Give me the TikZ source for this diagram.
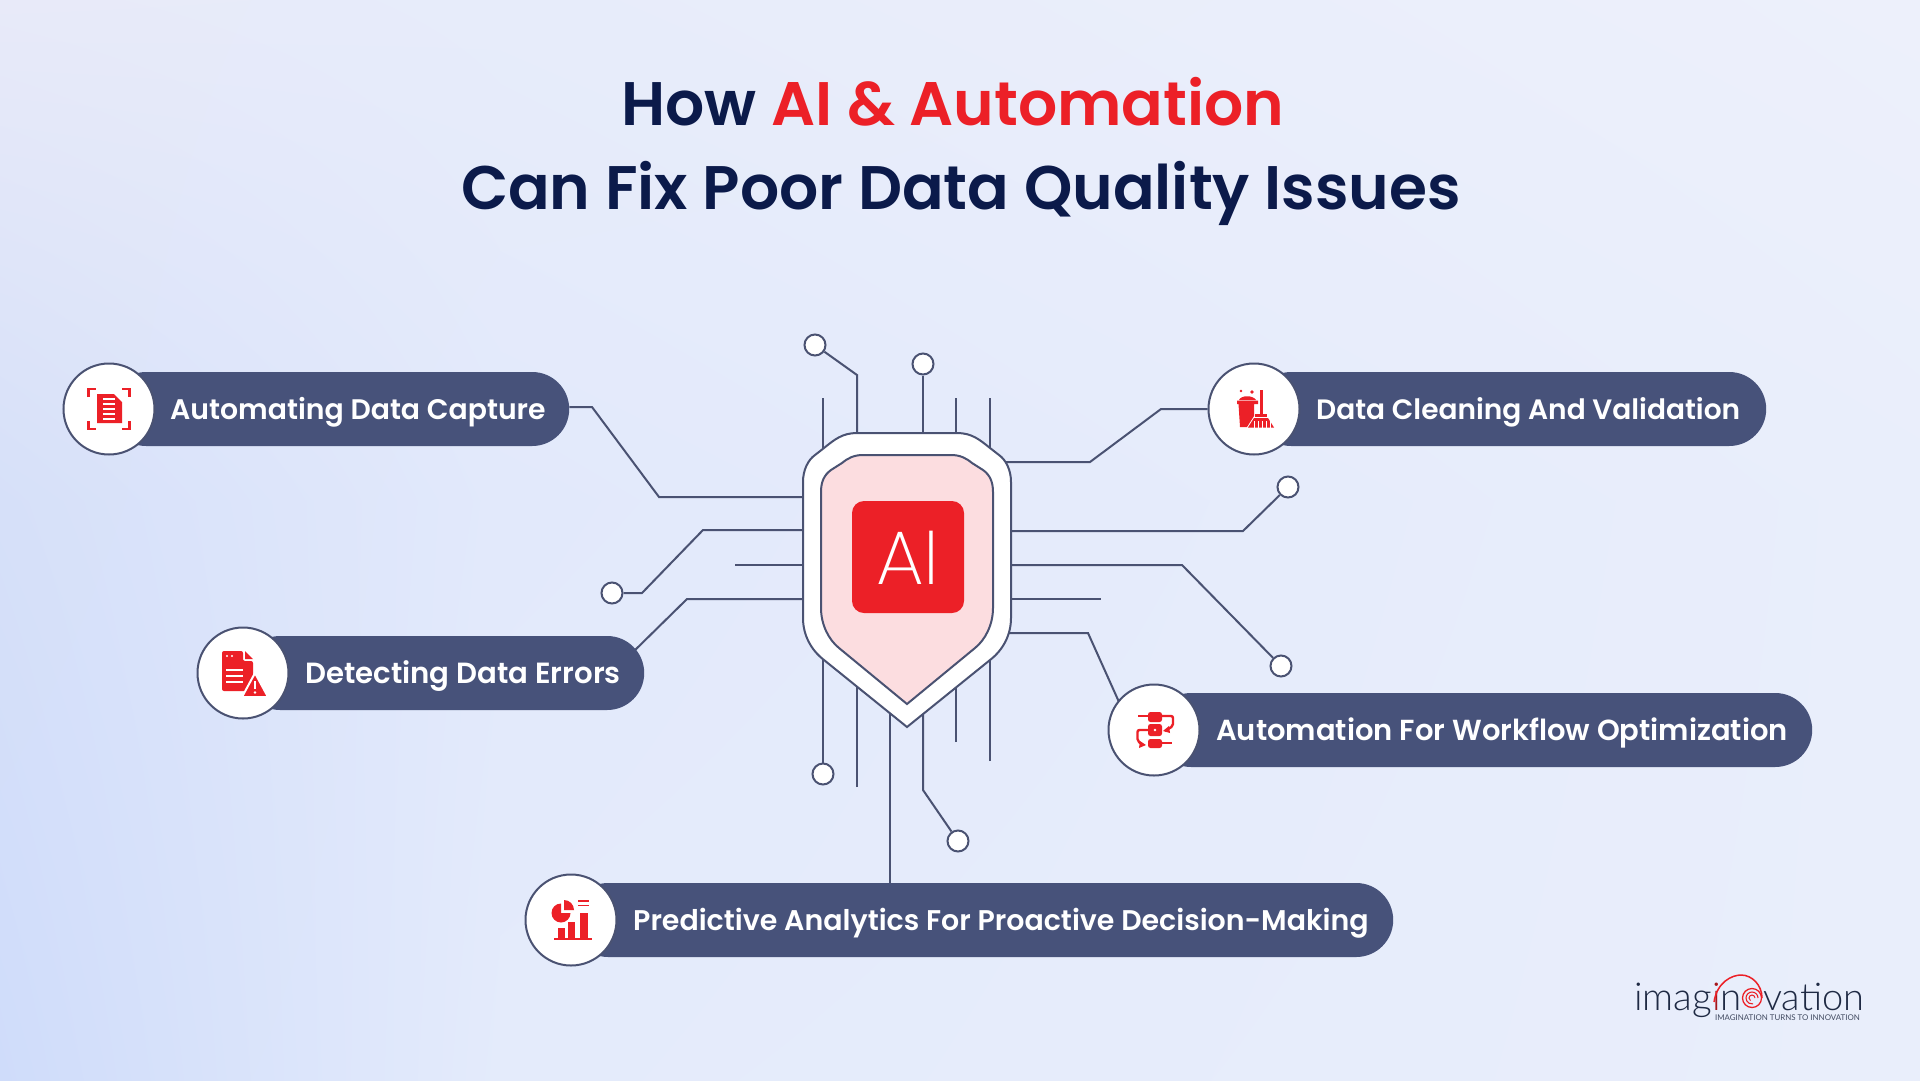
\documentclass[tikz,border=0pt]{standalone}
\usepackage{fontspec}
\setmainfont{Poppins}
\newfontfamily\titlefont{Poppins SemiBold}
\newfontfamily\thinfont{Poppins ExtraLight}
\newfontfamily\logofont{Lato Light}
\newfontfamily\tagfont{Lato}
\usetikzlibrary{arrows.meta, positioning, calc, backgrounds, shadings}
\definecolor{NavyInk}{HTML}{0B1A4A}
\definecolor{AiRed}{HTML}{EC2027}
\definecolor{SlatePill}{HTML}{47527A}
\definecolor{WireGray}{HTML}{4A5272}
\definecolor{SoftRose}{HTML}{FCDDE0}
\definecolor{LogoDark}{HTML}{1F2A44}
\definecolor{SkyA}{HTML}{E8EAF9}
\definecolor{SkyB}{HTML}{E7ECFA}
\definecolor{SkyC}{HTML}{EDF0FB}
\definecolor{SkyD}{HTML}{D6E0F9}
\definecolor{SkyE}{HTML}{E2E9FB}
\definecolor{SkyF}{HTML}{E9EEFB}
\definecolor{SkyG}{HTML}{CFDCFA}
\definecolor{SkyH}{HTML}{E4EBFB}
\definecolor{SkyI}{HTML}{E9EEFB}
\pgfdeclarelayer{wires}
\pgfsetlayers{background,wires,main}
\tikzset{
  pill/.style={fill=SlatePill, rounded corners=37pt, minimum height=74pt, anchor=west, inner sep=0pt},
  pilltext/.style={anchor=base west, inner sep=0pt, text=white, font=\titlefont\fontsize{#1}{34}\selectfont},
  disc/.style={circle, draw=WireGray, line width=2pt, fill=white, minimum size=91pt, inner sep=0pt},
  dot/.style={circle, draw=WireGray, line width=2pt, fill=white, minimum size=21pt, inner sep=0pt},
  wire/.style={draw=WireGray, line width=2pt},
  title/.style={anchor=base, inner sep=0pt, text=NavyInk, font=\titlefont\fontsize{61.5}{70}\selectfont},
  ink/.style={fill=AiRed, draw=none},
  inkline/.style={draw=AiRed, line width=2.4pt},
  notch/.style={draw=white, line width=1.4pt}
}
\begin{document}
\begin{tikzpicture}[x=1pt, y=-1pt]
\useasboundingbox (0,0) rectangle (1920,1080);
\begin{pgfonlayer}{background}
\shade[upper left=SkyA, upper right=SkyB, lower left=SkyD, lower right=SkyE] (0,0) rectangle (501,501);
\shade[upper left=SkyB, upper right=SkyC, lower left=SkyE, lower right=SkyF] (500,0) rectangle (1920,501);
\shade[upper left=SkyD, upper right=SkyE, lower left=SkyG, lower right=SkyH] (0,500) rectangle (501,1080);
\shade[upper left=SkyE, upper right=SkyF, lower left=SkyH, lower right=SkyI] (500,500) rectangle (1920,1080);
\end{pgfonlayer}

\node[title] (headA) at (953,125) {How \textcolor{AiRed}{AI \& Automation}};
\node[title] (headB) at (961,209) {Can Fix Poor Data Quality Issues};

\node[pill, minimum width=460pt] (pillCapture) at (109,409) {};
\node[pill, minimum width=401pt] (pillErrors) at (243,673) {};
\node[pill, minimum width=512pt] (pillCleaning) at (1254,409) {};
\node[pill, minimum width=658pt] (pillWorkflow) at (1154,730) {};
\node[pill, minimum width=822pt] (pillAnalytics) at (571,920) {};
\node[pilltext=28.3] (textCapture) at (170,419) {Automating Data Capture};
\node[pilltext=29.2] (textErrors) at (305,683) {Detecting Data Errors};
\node[pilltext=28.05] (textCleaning) at (1316,419) {Data Cleaning And Validation};
\node[pilltext=29] (textWorkflow) at (1216,740) {Automation For Workflow Optimization};
\node[pilltext=28.45] (textAnalytics) at (633,930) {Predictive Analytics For Proactive Decision-Making};
\node[disc] (discCapture) at (109,409) {};
\node[disc] (discErrors) at (243,673) {};
\node[disc] (discCleaning) at (1254,409) {};
\node[disc] (discWorkflow) at (1154,730) {};
\node[disc] (discAnalytics) at (571,920) {};

\node[dot] (dotTopA) at (815,345) {};
\node[dot] (dotTopB) at (923,364) {};
\node[dot] (dotRightA) at (1288,487) {};
\node[dot] (dotRightB) at (1281,666) {};
\node[dot] (dotLeft) at (612,593) {};
\node[dot] (dotLowA) at (823,774) {};
\node[dot] (dotLowB) at (958,841) {};

\coordinate (rimTopA) at (857,440);
\coordinate (rimTopB) at (923,440);
\coordinate (rimTopC) at (823,460);
\coordinate (rimTopD) at (956,440);
\coordinate (rimTopE) at (990,460);
\coordinate (freeTopC) at (823,398);
\coordinate (freeTopD) at (956,398);
\coordinate (freeTopE) at (990,398);
\coordinate (rimRightA) at (1000,462);
\coordinate (rimRightB) at (1005,531);
\coordinate (rimRightC) at (1005,565);
\coordinate (rimRightD) at (1005,599);
\coordinate (rimRightE) at (1000,633);
\coordinate (freeRightD) at (1101,599);
\coordinate (rimLeftA) at (810,497);
\coordinate (rimLeftB) at (810,530);
\coordinate (rimLeftC) at (810,565);
\coordinate (rimLeftD) at (810,599);
\coordinate (freeLeftC) at (735,565);
\coordinate (rimLowA) at (823,650);
\coordinate (rimLowB) at (857,670);
\coordinate (rimLowC) at (890,700);
\coordinate (rimLowD) at (923,700);
\coordinate (rimLowE) at (956,670);
\coordinate (rimLowF) at (990,650);
\coordinate (freeLowB) at (857,787);
\coordinate (freeLowE) at (956,742);
\coordinate (freeLowF) at (990,761);
\coordinate (tapErrors) at (630,655);
\coordinate (tapWorkflow) at (1119,702);

\begin{pgfonlayer}{wires}
\draw[wire] (dotTopA) -- (857,375) -- (rimTopA);
\draw[wire] (dotTopB) -- (rimTopB);
\draw[wire] (freeTopC) -- (rimTopC);
\draw[wire] (freeTopD) -- (rimTopD);
\draw[wire] (freeTopE) -- (rimTopE);
\draw[wire] (rimRightA) -- (1090,462) -- (1161,409) -- (discCleaning);
\draw[wire] (rimRightB) -- (1243,531) -- (dotRightA);
\draw[wire] (rimRightC) -- (1182,565) -- (dotRightB);
\draw[wire] (rimRightD) -- (freeRightD);
\draw[wire] (rimRightE) -- (1088,633) -- (tapWorkflow);
\draw[wire] (pillCapture.east |- 0,407) -- (592,407) -- (659,497) -- (rimLeftA);
\draw[wire] (dotLeft) -- (642,593) -- (703,530) -- (rimLeftB);
\draw[wire] (freeLeftC) -- (rimLeftC);
\draw[wire] (tapErrors) -- (687,599) -- (rimLeftD);
\draw[wire] (dotLowA) -- (rimLowA);
\draw[wire] (freeLowB) -- (rimLowB);
\draw[wire] (pillAnalytics.north -| rimLowC) -- (rimLowC);
\draw[wire] (dotLowB) -- (923,790) -- (rimLowD);
\draw[wire] (freeLowE) -- (rimLowE);
\draw[wire] (freeLowF) -- (rimLowF);
\end{pgfonlayer}

\draw[wire, fill=white] (857,433) -- (957,433) .. controls (972,433) and (980,440) .. (990,448) -- (999,455) .. controls (1006,460) and (1011,470) .. (1011,482) -- (1011,618) .. controls (1011,635) and (1003,650) .. (990,660) -- (907,727) -- (824,660) .. controls (811,650) and (803,635) .. (803,618) -- (803,482) .. controls (803,470) and (808,460) .. (815,455) -- (824,448) .. controls (834,440) and (842,433) .. (857,433) -- cycle;
\draw[wire, fill=SoftRose] (863,455) -- (951,455) .. controls (960,455) and (966,458) .. (972,463) -- (983,470) .. controls (990,475) and (993,482) .. (993,492) -- (993,608) .. controls (993,625) and (985,640) .. (975,648) -- (907,704) -- (839,648) .. controls (829,640) and (821,625) .. (821,608) -- (821,492) .. controls (821,482) and (824,475) .. (831,470) -- (842,463) .. controls (848,458) and (854,455) .. (863,455) -- cycle;
\node[fill=AiRed, rounded corners=12pt, minimum size=112pt, inner sep=0pt] (chip) at (908,557) {};
\node[inner sep=0pt, anchor=base, text=white, font=\thinfont\fontsize{76}{80}\selectfont] (chipText) at (908,584) {AI};

% capture icon
\draw[inkline] (88.5,397) -- (88.5,389) -- (96,389);
\draw[inkline] (122,389) -- (129.5,389) -- (129.5,397);
\draw[inkline] (88.5,421) -- (88.5,429) -- (96,429);
\draw[inkline] (122,429) -- (129.5,429) -- (129.5,421);
\fill[ink] (97,394) -- (114,394) -- (122,402) -- (122,423) -- (97,423) -- cycle;
\foreach \yy in {399,404,409,414,419} \draw[notch] (103,\yy) -- (115,\yy);

% errors icon
\fill[ink, rounded corners=2pt] (222,651) -- (243,651) -- (243,661) -- (253,661) -- (253,691) -- (222,691) -- cycle;
\fill[ink] (245,651) -- (253,659) -- (245,659) -- cycle;
\fill[white] (227,656) circle (1.2pt) (232,656) circle (1.2pt);
\foreach \yy in {670,676,682} \draw[notch, line width=2pt] (226,\yy) -- (243,\yy);
\draw[fill=AiRed, draw=white, line width=2pt, line join=round] (255,673) -- (268,697) -- (242,697) -- cycle;
\draw[white, line width=2.2pt] (255,681) -- (255,689);
\fill[white] (255,692.5) circle (1.3pt);

% cleaning icon
\fill[ink] (1237,400.5) -- (1258,400.5) -- (1258,404) -- (1254,404) -- (1254,416) -- (1247,427) -- (1240,427) -- (1238.5,404) -- (1237,404) -- cycle;
\fill[ink] (1239,400) .. controls (1241,395) and (1253,395) .. (1256,400) -- cycle;
\fill[ink] (1241,391) circle (1.4pt) (1252,392) circle (1.8pt);
\fill[ink] (1259.5,390) rectangle (1262.5,414);
\fill[ink] (1255,414) rectangle (1267,417);
\fill[ink] (1254,418) -- (1268,418) -- (1274,427.5) -- (1248,427.5) -- cycle;
\foreach \xx in {1254,1258,1262,1266,1270} \draw[notch, line width=0.9pt] (\xx,421) -- (\xx,428);

% workflow icon
\fill[ink, rounded corners=2.5pt] (1148,712) rectangle (1162,722);
\fill[ink, rounded corners=2.5pt] (1148,724) rectangle (1162,736);
\fill[ink, rounded corners=2.5pt] (1148,739) rectangle (1162,748);
\fill[white] (1155,730) circle (1.3pt);
\draw[inkline] (1138,716) -- (1148,716);
\draw[inkline] (1162,743) -- (1172,743);
\draw[inkline, rounded corners=2pt] (1162,716) -- (1173,716) -- (1173,726) -- (1165,731);
\fill[ink] (1163,731) -- (1169,726) -- (1170,733) -- cycle;
\draw[inkline, rounded corners=2pt] (1148,730) -- (1137.5,730) -- (1137.5,741) -- (1143,745);
\fill[ink] (1146,745) -- (1140,741) -- (1139,748) -- cycle;

% analytics icon
\fill[ink] (561,913) -- (561,903.5) arc (90:360:9.5pt) -- cycle;
\fill[ink] (564,910) -- (564,900) arc (90:0:10pt) -- cycle;
\draw[inkline, line width=1.8pt] (578,901) -- (589,901) (578,905.5) -- (589,905.5);
\fill[ink] (558,928) rectangle (565,938);
\fill[ink] (568,922) rectangle (575,938);
\fill[ink] (580,913) rectangle (588,938);
\draw[inkline] (554,939) -- (592,939);

% logo
\node[anchor=base east, inner sep=0pt, text=LogoDark, font=\logofont\fontsize{38.5}{40}\selectfont] (logoLeft) at (1742,1010) {imag\textcolor{AiRed!70!black}{i}n};
\node[anchor=base west, inner sep=0pt, text=LogoDark, font=\logofont\fontsize{38}{40}\selectfont] (logoRight) at (1763,1010) {vation};
\node[anchor=base east, inner sep=0pt, text=LogoDark!85, font=\tagfont\fontsize{7.9}{9}\selectfont] (logoTag) at (1860,1020) {IMAGINATION TURNS TO INNOVATION};
\draw[AiRed, line width=1.5pt] (1714,1002) .. controls (1717,982) and (1732,975) .. (1741,975) .. controls (1752,975) and (1762,985) .. (1762,998);
\draw[AiRed, line width=1.3pt] (1752,998) circle (9.5pt);
\draw[AiRed, line width=1.1pt] (1758,998) arc (0:280:6pt);
\draw[AiRed, line width=1pt] (1755,998) arc (0:240:3pt);
\end{tikzpicture}
\end{document}
